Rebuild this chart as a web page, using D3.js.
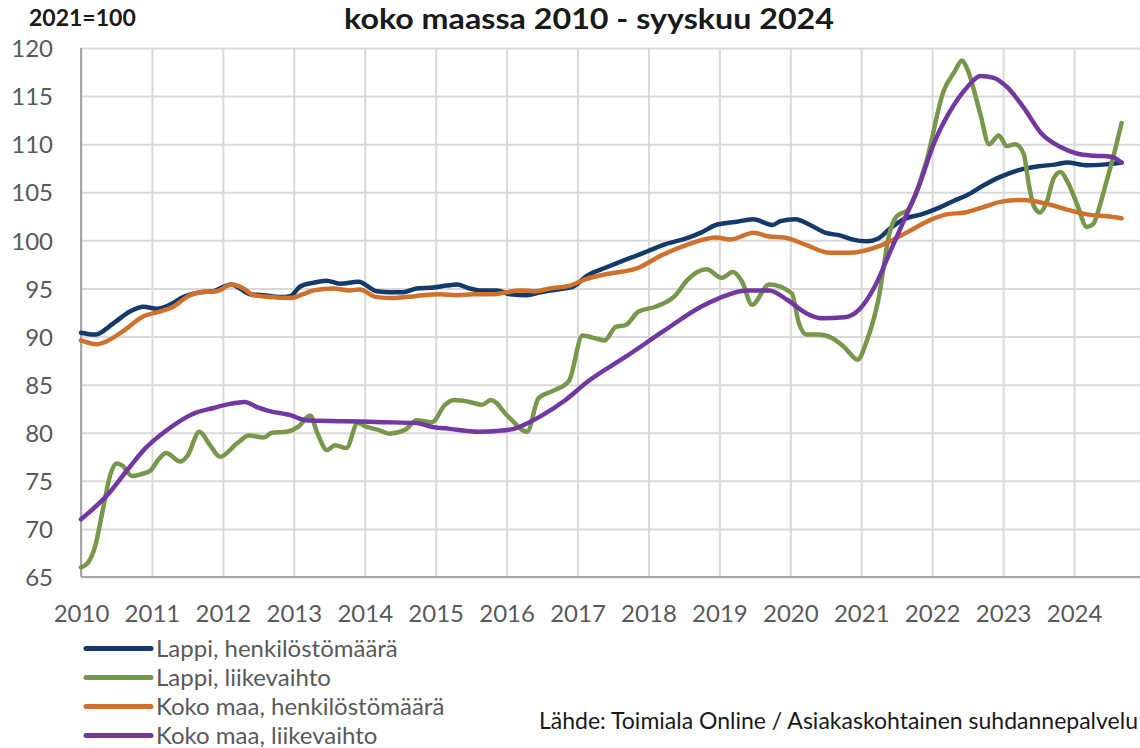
<!DOCTYPE html>
<html>
<head>
<meta charset="utf-8">
<script src="https://cdn.jsdelivr.net/npm/d3@7"></script>
<style>
  html, body { margin: 0; padding: 0; background: #fff; }
  svg { display: block; }
</style>
</head>
<body>
<svg id="chart" width="1140" height="748"></svg>
<script>
// ---------- data (decimal year, index 2021=100) ----------
const titleText = "koko maassa 2010 - syyskuu 2024";
const unitText = "2021=100";
const sourceText = "Lähde: Toimiala Online / Asiakaskohtainen suhdannepalvelu";

const seriesNames = [
  "Lappi, henkilöstömäärä",
  "Lappi, liikevaihto",
  "Koko maa, henkilöstömäärä",
  "Koko maa, liikevaihto"
];
const seriesColors = ["#14396b", "#77974a", "#cf712c", "#7237a0"];

const xTickLabels = [2010, 2011, 2012, 2013, 2014, 2015, 2016, 2017, 2018, 2019, 2020, 2021, 2022, 2023, 2024];
const yTickLabels = [65, 70, 75, 80, 85, 90, 95, 100, 105, 110, 115, 120];

const lappiHenkilosto = [
  [2010.0, 90.4], [2010.2, 90.2], [2010.46, 91.4], [2010.69, 92.6], [2010.88, 93.1],
  [2011.07, 92.9], [2011.25, 93.3], [2011.44, 94.1], [2011.68, 94.6], [2011.87, 94.7],
  [2012.01, 95.2], [2012.12, 95.4], [2012.24, 95.0], [2012.38, 94.4], [2012.57, 94.3],
  [2012.81, 94.1], [2012.95, 94.2], [2013.09, 95.2], [2013.28, 95.6], [2013.46, 95.8],
  [2013.65, 95.5], [2013.91, 95.7], [2014.17, 94.7], [2014.36, 94.6], [2014.54, 94.6],
  [2014.73, 95.0], [2014.97, 95.1], [2015.16, 95.3], [2015.3, 95.4], [2015.48, 95.0],
  [2015.62, 94.8], [2015.86, 94.8], [2016.05, 94.4], [2016.28, 94.3], [2016.47, 94.6],
  [2016.71, 94.9], [2016.94, 95.2], [2017.13, 96.3], [2017.41, 97.2], [2017.68, 98.0],
  [2018.0, 98.9], [2018.2, 99.5], [2018.53, 100.2], [2018.74, 100.8], [2018.95, 101.6],
  [2019.22, 101.9], [2019.48, 102.2], [2019.75, 101.6], [2019.86, 102.0], [2020.07, 102.2],
  [2020.28, 101.6], [2020.49, 100.8], [2020.71, 100.5], [2020.87, 100.1], [2021.08, 99.9],
  [2021.24, 100.2], [2021.4, 101.2], [2021.6, 102.2], [2021.85, 102.7], [2022.1, 103.4],
  [2022.3, 104.1], [2022.49, 104.7], [2022.72, 105.7], [2022.96, 106.6], [2023.22, 107.3],
  [2023.5, 107.7], [2023.75, 107.9], [2023.9, 108.1], [2024.18, 107.8], [2024.45, 107.9],
  [2024.67, 108.1]
];

const lappiLiikevaihto = [
  [2010.0, 66.0], [2010.1, 66.5], [2010.2, 68.2], [2010.3, 71.7], [2010.42, 75.8],
  [2010.5, 76.8], [2010.58, 76.6], [2010.72, 75.5], [2010.85, 75.7], [2010.97, 76.0],
  [2011.1, 77.3], [2011.2, 77.9], [2011.4, 77.0], [2011.5, 77.6], [2011.67, 80.1],
  [2011.82, 78.7], [2011.96, 77.5], [2012.2, 78.9], [2012.37, 79.7], [2012.58, 79.5],
  [2012.69, 80.0], [2012.9, 80.1], [2013.06, 80.6], [2013.23, 81.8], [2013.33, 80.0],
  [2013.47, 78.2], [2013.58, 78.7], [2013.74, 78.4], [2013.9, 81.0], [2014.03, 80.6],
  [2014.19, 80.3], [2014.35, 79.9], [2014.57, 80.3], [2014.73, 81.3], [2014.95, 81.1],
  [2015.13, 82.9], [2015.27, 83.4], [2015.48, 83.2], [2015.65, 82.9], [2015.78, 83.4],
  [2016.02, 81.7], [2016.29, 80.1], [2016.45, 83.6], [2016.67, 84.4], [2016.88, 85.4],
  [2017.07, 90.1], [2017.26, 89.8], [2017.38, 89.6], [2017.54, 91.0], [2017.68, 91.2],
  [2017.86, 92.6], [2018.1, 93.1], [2018.37, 94.2], [2018.55, 95.9], [2018.82, 97.0],
  [2019.03, 96.1], [2019.19, 96.7], [2019.32, 95.7], [2019.46, 93.3], [2019.7, 95.4],
  [2020.02, 94.5], [2020.12, 91.4], [2020.23, 90.2], [2020.39, 90.2], [2020.6, 89.8],
  [2020.76, 88.9], [2020.95, 87.6], [2021.08, 89.6], [2021.24, 93.8], [2021.4, 100.8],
  [2021.5, 102.5], [2021.66, 103.2], [2021.92, 108.3], [2022.16, 115.5], [2022.32, 117.6],
  [2022.42, 118.7], [2022.49, 117.9], [2022.68, 113.1], [2022.8, 110.0], [2022.94, 110.9],
  [2023.05, 109.8], [2023.17, 110.0], [2023.29, 109.0], [2023.36, 105.9], [2023.43, 103.6],
  [2023.52, 102.9], [2023.62, 104.1], [2023.71, 106.4], [2023.81, 107.1], [2023.9, 106.2],
  [2024.04, 103.8], [2024.18, 101.4], [2024.27, 101.7], [2024.37, 103.8], [2024.46, 106.2],
  [2024.55, 108.6], [2024.67, 112.2]
];

const kokoMaaHenkilosto = [
  [2010.0, 89.6], [2010.22, 89.2], [2010.36, 89.5], [2010.6, 90.6], [2010.88, 92.1],
  [2011.11, 92.6], [2011.3, 93.1], [2011.49, 94.1], [2011.68, 94.6], [2011.91, 94.7],
  [2012.12, 95.4], [2012.29, 95.0], [2012.43, 94.3], [2012.67, 94.1], [2012.95, 94.0],
  [2013.13, 94.4], [2013.28, 94.8], [2013.56, 95.0], [2013.79, 94.8], [2013.93, 94.9],
  [2014.17, 94.1], [2014.4, 94.0], [2014.59, 94.1], [2014.82, 94.3], [2015.06, 94.4],
  [2015.3, 94.3], [2015.53, 94.4], [2015.81, 94.4], [2016.0, 94.6], [2016.19, 94.8],
  [2016.38, 94.7], [2016.61, 95.0], [2016.89, 95.3], [2017.13, 96.0], [2017.41, 96.5],
  [2017.84, 97.1], [2018.2, 98.5], [2018.53, 99.5], [2018.95, 100.3], [2019.16, 100.1],
  [2019.48, 100.8], [2019.7, 100.4], [2019.91, 100.3], [2020.23, 99.5], [2020.55, 98.7],
  [2020.81, 98.7], [2021.03, 98.9], [2021.29, 99.5], [2021.66, 100.9], [2022.0, 102.2],
  [2022.2, 102.7], [2022.46, 102.9], [2022.78, 103.6], [2022.96, 104.0], [2023.25, 104.2],
  [2023.43, 104.1], [2023.67, 103.7], [2023.9, 103.2], [2024.18, 102.7], [2024.46, 102.5],
  [2024.67, 102.3]
];

const kokoMaaLiikevaihto = [
  [2010.0, 71.0], [2010.38, 73.6], [2010.65, 76.1], [2010.91, 78.4], [2011.18, 80.1],
  [2011.56, 81.9], [2011.88, 82.6], [2012.1, 83.0], [2012.31, 83.2], [2012.5, 82.6],
  [2012.63, 82.3], [2012.96, 81.8], [2013.17, 81.3], [2013.7, 81.2], [2014.25, 81.1],
  [2014.73, 81.0], [2014.95, 80.6], [2015.2, 80.4], [2015.6, 80.1], [2015.9, 80.2],
  [2016.1, 80.4], [2016.24, 80.8], [2016.5, 81.8], [2016.83, 83.4], [2017.14, 85.3],
  [2017.68, 87.9], [2018.2, 90.5], [2018.74, 93.1], [2019.0, 94.0], [2019.38, 94.8],
  [2019.7, 94.8], [2019.96, 93.8], [2020.23, 92.4], [2020.44, 91.9], [2020.76, 92.0],
  [2020.97, 92.8], [2021.19, 95.2], [2021.4, 98.7], [2021.61, 102.2], [2021.82, 105.8],
  [2022.02, 110.0], [2022.25, 113.4], [2022.49, 115.9], [2022.68, 117.1], [2022.87, 116.9],
  [2023.06, 115.9], [2023.29, 113.8], [2023.53, 111.2], [2023.81, 109.7], [2024.05, 109.0],
  [2024.28, 108.8], [2024.52, 108.7], [2024.67, 108.1]
];

const allSeries = [lappiHenkilosto, lappiLiikevaihto, kokoMaaHenkilosto, kokoMaaLiikevaihto];

// ---------- layout ----------
const svg = d3.select("#chart");
const W = 1140, H = 748;
const plot = { left: 81, right: 1145, top: 48, bottom: 577 };

const x = d3.scaleLinear().domain([2010, 2025]).range([plot.left, plot.right]);
const y = d3.scaleLinear().domain([65, 120]).range([plot.bottom, plot.top]);

svg.append("rect").attr("width", W).attr("height", H).attr("fill", "#fff");

const FONT = "Lato, 'Open Sans', sans-serif";

// horizontal gridlines
const yGrid = svg.append("g")
  .attr("transform", `translate(${plot.left},0)`)
  .call(d3.axisLeft(y).tickValues(yTickLabels).tickSize(-(plot.right - plot.left)).tickFormat(""));
yGrid.select(".domain").remove();
yGrid.selectAll("line").attr("stroke", "#d9d9d9").attr("stroke-width", 2);

// vertical gridlines
const xGrid = svg.append("g")
  .attr("transform", `translate(0,${plot.bottom})`)
  .call(d3.axisBottom(x).tickValues(xTickLabels.concat([2025])).tickSize(-(plot.bottom - plot.top)).tickFormat(""));
xGrid.select(".domain").remove();
xGrid.selectAll("line").attr("stroke", "#d9d9d9").attr("stroke-width", 2);

// axis lines
svg.append("line").attr("x1", plot.left).attr("x2", plot.left)
  .attr("y1", plot.top).attr("y2", plot.bottom)
  .attr("stroke", "#a6a6a6").attr("stroke-width", 2);
svg.append("line").attr("x1", plot.left).attr("x2", plot.right)
  .attr("y1", plot.bottom).attr("y2", plot.bottom)
  .attr("stroke", "#a6a6a6").attr("stroke-width", 2);

// y tick labels
const yAxis = svg.append("g")
  .attr("transform", `translate(${plot.left - 28},0)`)
  .call(d3.axisLeft(y).tickValues(yTickLabels).tickSize(0).tickPadding(0).tickFormat(d3.format("d")));
yAxis.select(".domain").remove();
yAxis.selectAll("text")
  .attr("font-family", FONT).attr("font-size", 24).attr("fill", "#595959")
  .attr("dy", "0.36em");

// x tick labels
const xAxis = svg.append("g")
  .attr("transform", `translate(0,${plot.bottom})`)
  .call(d3.axisBottom(x).tickValues(xTickLabels).tickSize(0).tickPadding(0).tickFormat(d3.format("d")));
xAxis.select(".domain").remove();
xAxis.selectAll("text")
  .attr("font-family", FONT).attr("font-size", 24).attr("fill", "#595959")
  .attr("y", 45).attr("dy", 0);

// lines
const line = d3.line()
  .x(d => x(d[0]))
  .y(d => y(d[1]))
  .curve(d3.curveMonotoneX);

svg.append("g").selectAll("path")
  .data(allSeries)
  .join("path")
  .attr("d", line)
  .attr("fill", "none")
  .attr("stroke", (d, i) => seriesColors[i])
  .attr("stroke-width", 4.5)
  .attr("stroke-linejoin", "round")
  .attr("stroke-linecap", "round");

// title & unit
svg.append("text")
  .attr("x", 589).attr("y", 29)
  .attr("text-anchor", "middle")
  .attr("font-family", FONT).attr("font-weight", "bold").attr("font-size", 28)
  .attr("textLength", 490).attr("lengthAdjust", "spacingAndGlyphs")
  .attr("fill", "#1a1a1a")
  .text(titleText);

svg.append("text")
  .attr("x", 29).attr("y", 26)
  .attr("font-family", FONT).attr("font-weight", "bold").attr("font-size", 23)
  .attr("fill", "#1a1a1a")
  .text(unitText);

// legend
const legend = svg.append("g");
const legendRowY = d3.scaleBand().domain(seriesNames).range([634, 750]);
seriesNames.forEach((name, i) => {
  const cy = legendRowY(name) + legendRowY.bandwidth() / 2;
  legend.append("line")
    .attr("x1", 86).attr("x2", 151).attr("y1", cy).attr("y2", cy)
    .attr("stroke", seriesColors[i]).attr("stroke-width", 5)
    .attr("stroke-linecap", "round");
  legend.append("text")
    .attr("x", 156).attr("y", cy).attr("dy", "0.36em")
    .attr("font-family", FONT).attr("font-size", 24).attr("fill", "#595959")
    .text(name);
});

// source
svg.append("text")
  .attr("x", 539).attr("y", 729)
  .attr("font-family", FONT).attr("font-size", 23).attr("fill", "#1a1a1a")
  .text(sourceText);
</script>
</body>
</html>
